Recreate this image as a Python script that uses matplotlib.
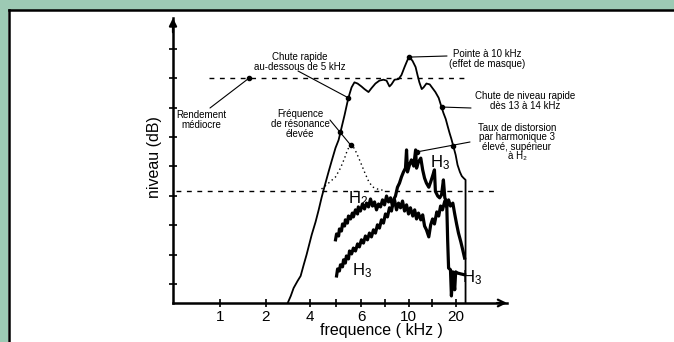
import numpy as np
import matplotlib
matplotlib.use('Agg')
import matplotlib.pyplot as plt
from matplotlib.patches import Rectangle

plt.rcParams['font.family'] = ['Liberation Sans', 'DejaVu Sans']
plt.rcParams['mathtext.default'] = 'regular'

# frequency axis is schematic: equal spacing between the labelled values
khz_knots = [0, 1, 2, 4, 6, 10, 20, 30, 40]
pos_knots = [0, 1, 1.97, 2.9, 4, 5, 6, 7, 8]
tick_khz = [1, 2, 4, 6, 10, 20]
tick_labels = ['1', '2', '4', '6', '10', '20']
minor_khz = [5, 8, 15]
level_ticks = [10, 20, 30, 40, 50, 60, 70, 80, 90]

# reference levels (dB)
level_good = 80
level_h = 41.5

# speaker response (kHz, dB)
resp_f = [3.0, 3.14, 3.27, 3.45, 3.59, 3.73, 3.86, 4.08, 4.23, 4.35, 4.46, 4.58,
          4.73, 4.85, 5.0, 5.12, 5.23, 5.35, 5.46, 5.54, 5.62, 5.73, 5.85, 6.0,
          6.26, 6.6, 6.85, 7.19, 7.53, 7.87, 8.13, 8.38, 8.55, 8.81, 9.15, 9.4,
          9.66, 9.91, 10.2, 10.85, 11.5, 11.9, 12.3, 12.8, 13.2, 13.8, 14.5, 15.1,
          15.7, 16.4, 17.0, 17.4, 17.9, 18.3, 18.7, 19.1, 19.5, 20.0, 20.4, 20.9,
          21.3, 21.7, 22.1, 22.1]
resp_db = [3.5, 5.9, 8.6, 11.0, 12.7, 16.5, 19.9, 26.7, 31.1, 35.2, 39.3, 43.3,
           48.1, 51.8, 56.3, 59.0, 63.1, 67.5, 71.9, 74.6, 76.9, 78.6, 78.2, 77.2,
           76.3, 75.3, 76.6, 78.2, 79.2, 79.5, 79.2, 77.2, 77.9, 79.5, 79.7, 81.1,
           83.8, 86.2, 87.2, 85.9, 83.8, 81.1, 78.6, 76.3, 76.9, 78.2, 77.9, 76.6,
           75.3, 73.3, 70.2, 68.2, 66.1, 63.7, 61.4, 59.3, 56.9, 53.9, 50.5, 48.1,
           46.7, 46.0, 45.4, 3.5]

# resonance bump
reso_f = [4.46, 4.73, 5.0, 5.19, 5.35, 5.46, 5.58, 5.69, 5.81, 5.96, 6.26, 6.6,
          6.94, 7.36, 7.79]
reso_db = [42.3, 44.3, 46.4, 49.4, 52.8, 55.6, 57.3, 56.6, 54.6, 51.5, 48.1, 45.0,
           43.0, 42.3, 41.9]

# second harmonic distortion
h2_f = [5.0, 5.04, 5.12, 5.15, 5.23, 5.27, 5.35, 5.38, 5.46, 5.5, 5.58, 5.65,
        5.69, 5.77, 5.85, 5.88, 5.96, 6.09, 6.26, 6.43, 6.6, 6.77, 6.94, 7.11,
        7.28, 7.45, 7.62, 7.79, 7.96, 8.13, 8.3, 8.47, 8.64, 8.81, 8.98, 9.15,
        9.32, 9.49, 9.66, 9.83, 10.0, 10.4, 10.9, 11.3, 11.7, 12.1, 12.6, 13.0,
        13.4, 13.8, 14.3, 14.7, 15.1, 15.5, 16.0, 16.4, 16.8, 17.2, 17.7, 18.1,
        18.5, 18.9, 19.4, 19.8, 20.2, 20.6, 21.1, 21.5, 21.9]
h2_db = [25.0, 27.0, 26.3, 28.7, 28.0, 30.4, 29.7, 31.8, 30.7, 33.1, 32.1, 34.1,
         32.8, 35.2, 33.8, 36.2, 34.8, 37.2, 35.5, 37.5, 36.2, 38.9, 36.5, 37.9,
         35.2, 37.2, 36.2, 38.6, 36.9, 39.9, 37.9, 39.3, 36.5, 38.6, 35.2, 37.5,
         35.9, 38.2, 34.8, 36.9, 33.8, 35.9, 33.1, 35.2, 32.1, 34.1, 31.8, 33.5,
         29.7, 28.4, 26.0, 30.1, 32.1, 30.4, 34.5, 33.1, 36.5, 35.2, 38.2, 36.2,
         38.6, 36.5, 37.5, 33.8, 30.4, 27.3, 24.3, 21.6, 18.8]

# third harmonic distortion
h3_f = [5.04, 5.08, 5.15, 5.19, 5.27, 5.31, 5.38, 5.42, 5.5, 5.54, 5.62, 5.69,
        5.77, 5.85, 5.92, 6.0, 6.17, 6.34, 6.51, 6.68, 6.85, 7.02, 7.19, 7.36,
        7.53, 7.7, 7.87, 8.04, 8.21, 8.38, 8.55, 8.72, 8.89, 9.06, 9.23, 9.4,
        9.57, 9.74, 9.83, 9.91, 10.2, 10.6, 11.1, 11.5, 11.7, 12.1, 12.6, 13.0,
        13.4, 13.8, 14.3, 14.7, 15.1, 15.5, 15.7, 16.2, 16.6, 17.0, 17.4, 17.7,
        18.1, 18.3, 18.5, 18.9, 19.1, 19.4, 19.8, 20.0, 20.4, 21.1, 21.9]
h3_db = [12.7, 15.1, 14.4, 16.5, 15.8, 18.2, 17.1, 19.5, 18.5, 21.2, 20.2, 22.2,
         21.2, 23.6, 22.6, 25.0, 23.9, 26.3, 25.0, 27.3, 26.0, 28.4, 27.3, 30.1,
         29.0, 31.8, 30.7, 33.8, 32.8, 35.9, 34.8, 38.6, 39.9, 42.9, 44.3, 46.4,
         48.1, 49.4, 55.6, 48.1, 50.5, 52.2, 50.1, 55.6, 49.4, 51.5, 52.8, 48.8,
         46.0, 44.3, 42.9, 44.7, 46.7, 48.8, 41.5, 39.9, 39.3, 40.3, 45.4, 39.3,
         37.9, 25.0, 15.4, 14.8, 5.9, 14.1, 8.0, 14.1, 13.7, 13.4, 13.1]

W, H = 674, 342


def fx(px):
    return px / W


def fy(py):
    return 1 - py / H


fig = plt.figure(figsize=(W / 100, H / 100), dpi=100, facecolor='#9dcab4')
fig.patches.append(Rectangle((fx(8), 0), 1 - fx(8), fy(10), transform=fig.transFigure,
                             facecolor='white', edgecolor='none', zorder=-5))
fig.add_artist(plt.Line2D([fx(9), fx(9)], [0, fy(10)], color='k', lw=1.8, zorder=-4))
fig.add_artist(plt.Line2D([fx(9), 1], [fy(10), fy(10)], color='k', lw=1.8, zorder=-4))

ax = fig.add_axes([fx(173), fy(303), (507 - 173) / W, (303 - 18) / H])
ax.patch.set_alpha(0)


def fwd(x):
    return np.interp(x, khz_knots, pos_knots)


def inv(p):
    return np.interp(p, pos_knots, khz_knots)


ax.set_xscale('function', functions=(fwd, inv))
ax.set_xlim(0, 30.9)
ax.set_ylim(3.5, 100.5)

for s in ['top', 'right']:
    ax.spines[s].set_visible(False)
for s in ['left', 'bottom']:
    ax.spines[s].set_linewidth(1.8)

ax.set_xticks(tick_khz)
ax.set_xticklabels(tick_labels)
ax.set_xticks(minor_khz, minor=True)
ax.set_yticks(level_ticks)
ax.set_yticklabels([])
ax.tick_params(which='both', direction='inout', length=6, width=1.2, labelsize=11, pad=2)

# axis arrow heads
ax.annotate('', xy=(1.0, 0), xytext=(0.97, 0), xycoords='axes fraction',
            arrowprops=dict(arrowstyle='->', lw=1.6, color='k', mutation_scale=12,
                            shrinkA=0, shrinkB=0))
ax.annotate('', xy=(0, 1.0), xytext=(0, 0.95), xycoords='axes fraction',
            arrowprops=dict(arrowstyle='-|>', lw=1.6, color='k', mutation_scale=11,
                            shrinkA=0, shrinkB=0))

# reference levels
ax.plot([0.77, 21.7], [level_good, level_good], color='k', lw=1.0, ls=(0, (3.5, 4)))
ax.plot([0.06, 28.5], [level_h, level_h], color='k', lw=1.0, ls=(0, (3.5, 4)))

ax.plot(resp_f, resp_db, color='k', lw=1.3)
ax.plot(reso_f, reso_db, color='k', lw=1.0, ls=(0, (1, 2.2)))
ax.plot(h2_f, h2_db, color='k', lw=2.3)
ax.plot(h3_f, h3_db, color='k', lw=2.3)

# callouts: (text centre px, text, leader start px, target points)
callouts = [
    ((201, 120), 'Rendement\nmédiocre', (210, 108), [(1.63, level_good)]),
    ((300, 62), 'Chute rapide\nau-dessous de 5 kHz', (298, 71), [(5.5, 73.3)]),
    ((300, 124), 'Fréquence\nde résonance\nélevée', (330, 120), [(5.58, 57.3), (5.19, 61.6)]),
    ((487, 59), 'Pointe à 10 kHz\n(effet de masque)', (447, 56), [(10.2, 87.2)]),
    ((525, 101), 'Chute de niveau rapide\ndès 13 à 14 kHz', (471, 108), [(17.0, 70.2)]),
    ((517, 142), 'Taux de distorsion\npar harmonique 3\nélevé, supérieur\nà H₂', (470, 142),
     [(11.7, 54.9), (19.5, 56.9)]),
]
for (cx, cy), txt, (lx, ly), pts in callouts:
    fig.text(fx(cx), fy(cy), txt, ha='center', va='center', fontsize=7, linespacing=0.95)
    ax.annotate('', xy=pts[0], xycoords='data', xytext=(lx, H - ly),
                textcoords='figure pixels',
                arrowprops=dict(arrowstyle='-', lw=0.8, color='k', shrinkA=0, shrinkB=0))
    for px, py in pts:
        ax.plot(px, py, 'o', ms=3, color='k')

# harmonic labels
for (lx, ly), txt in [((348, 203), r'H$_2$'), ((430, 167), r'H$_3$'),
                      ((352, 275), r'H$_3$'), ((462, 282), r'H$_3$')]:
    fig.text(fx(lx), fy(ly), txt, ha='left', va='baseline', fontsize=12)

fig.text(fx(381), fy(331), 'frequence ( kHz )', ha='center', va='center', fontsize=11.5)
fig.text(fx(155), fy(157), 'niveau (dB)', ha='center', va='center', rotation=90,
         fontsize=11.5)

fig.savefig('out.png', dpi=100, facecolor=fig.get_facecolor())
